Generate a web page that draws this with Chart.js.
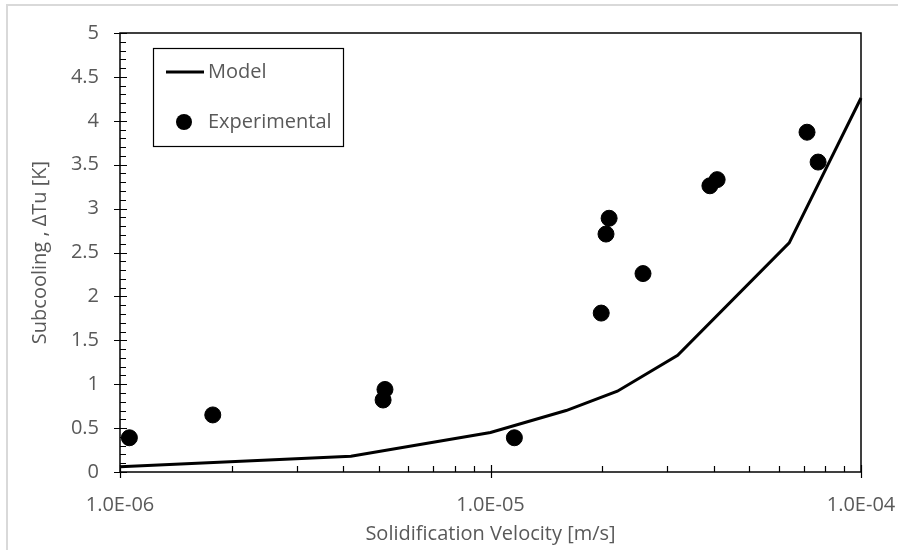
<!DOCTYPE html>
<html lang="en">
<head>
  <meta charset="UTF-8">
  <title>Subcooling vs Solidification Velocity</title>
  <script src="https://cdn.jsdelivr.net/npm/chart.js"></script>
  <style>
    html, body { margin: 0; padding: 0; background: #fff; }
    #wrap { width: 898px; height: 550px; position: relative; }
  </style>
</head>
<body>
  <div id="wrap"><canvas id="subChart" width="898" height="550"></canvas></div>

  <script>
    // model curve
    const modelV  = [1.0e-6, 4.2e-6, 1.0e-5, 1.6e-5, 2.2e-5, 3.2e-5, 6.4e-5, 1.0e-4];
    const modelDT = [0.06, 0.18, 0.45, 0.70, 0.92, 1.33, 2.61, 4.26];

    // experimental points
    const expV  = [1.06e-6, 1.78e-6, 5.19e-6, 5.13e-6, 1.16e-5, 1.99e-5, 2.05e-5, 2.09e-5, 2.58e-5, 3.91e-5, 4.09e-5, 7.15e-5, 7.66e-5];
    const expDT = [0.39, 0.65, 0.94, 0.82, 0.39, 1.81, 2.71, 2.89, 2.26, 3.26, 3.33, 3.87, 3.53];

    const xTickVals   = [1e-6, 1e-5, 1e-4];
    const xTickLabels = ['1.0E-06', '1.0E-05', '1.0E-04'];

    const FONT = "'Open Sans', sans-serif";
    const GREY = '#595959';

    // axis lines, frame, ticks and legend box (Excel style)
    const excelLook = {
      id: 'excelLook',
      beforeDraw(chart) {
        const c = chart.ctx;
        c.save();
        c.fillStyle = '#fff';
        c.fillRect(0, 0, chart.width, chart.height);
        c.strokeStyle = '#d9d9d9';
        c.lineWidth = 2;
        c.beginPath();
        c.moveTo(7, chart.height); c.lineTo(7, 5); c.lineTo(chart.width, 5);
        c.stroke();
        c.restore();
      },
      afterDraw(chart) {
        const c = chart.ctx;
        const a = chart.chartArea;
        const xs = chart.scales.x, ys = chart.scales.y;
        c.save();
        c.strokeStyle = '#000';
        c.lineWidth = 1.5;
        c.strokeRect(a.left, a.top, a.right - a.left, a.bottom - a.top);

        c.lineWidth = 1.2;
        c.beginPath();
        // y ticks
        for (let i = 0; i <= 50; i++) {
          const y = Math.round(ys.getPixelForValue(i / 10)) + 0.5;
          if (i % 5 === 0) { c.moveTo(a.left - 6, y); c.lineTo(a.left + 7, y); }
          else { c.moveTo(a.left, y); c.lineTo(a.left + 6, y); }
        }
        // x ticks (log)
        for (let d = -6; d <= -4; d++) {
          for (let m = 1; m <= 9; m++) {
            if (d === -4 && m > 1) break;
            const x = Math.round(xs.getPixelForValue(m * Math.pow(10, d))) + 0.5;
            if (m === 1) { c.moveTo(x, a.bottom + 6); c.lineTo(x, a.bottom - 7); }
            else { c.moveTo(x, a.bottom); c.lineTo(x, a.bottom - 6); }
          }
        }
        c.stroke();

        // legend
        c.lineWidth = 1.2;
        c.strokeRect(153.5, 48.5, 190, 98);
        c.lineWidth = 3;
        c.beginPath(); c.moveTo(166, 72); c.lineTo(204, 72); c.stroke();
        c.fillStyle = '#000';
        c.beginPath(); c.arc(184, 122, 8, 0, Math.PI * 2); c.fill();
        c.fillStyle = GREY;
        c.font = '20px ' + FONT;
        c.textBaseline = 'middle';
        c.textAlign = 'left';
        c.fillText('Model', 208, 72);
        c.fillText('Experimental', 208, 122);
        c.restore();
      }
    };

    new Chart(document.getElementById('subChart').getContext('2d'), {
      type: 'scatter',
      data: {
        datasets: [
          {
            label: 'Model',
            data: modelV.map((v, i) => ({ x: v, y: modelDT[i] })),
            showLine: true,
            borderColor: '#000',
            borderWidth: 3,
            pointRadius: 0,
            tension: 0,
            clip: false
          },
          {
            label: 'Experimental',
            data: expV.map((v, i) => ({ x: v, y: expDT[i] })),
            backgroundColor: '#000',
            borderColor: '#000',
            pointRadius: 8,
            pointHoverRadius: 8,
            clip: false
          }
        ]
      },
      options: {
        responsive: false,
        animation: false,
        layout: { padding: { left: 0, right: 37, top: 27, bottom: 0 } },
        plugins: { legend: { display: false }, tooltip: { enabled: false } },
        scales: {
          x: {
            type: 'logarithmic',
            min: 1e-6,
            max: 1e-4,
            afterBuildTicks: s => { s.ticks = xTickVals.map(v => ({ value: v })); },
            afterFit: s => { s.height = 78; s.paddingLeft = 0; s.paddingRight = 0; },
            grid: { display: false, drawTicks: false },
            border: { display: false },
            ticks: {
              autoSkip: false,
              maxRotation: 0,
              padding: 21,
              color: GREY,
              font: { family: FONT, size: 20 },
              callback: (v) => xTickLabels[xTickVals.findIndex(t => Math.abs(t - v) / t < 1e-6)]
            },
            title: {
              display: true,
              text: 'Solidification Velocity [m/s]',
              color: GREY,
              font: { family: FONT, size: 20 },
              padding: { top: 0, bottom: 4 }
            }
          },
          y: {
            min: 0,
            max: 5,
            afterFit: s => { s.width = 120; },
            grid: { display: false, drawTicks: false },
            border: { display: false },
            ticks: {
              stepSize: 0.5,
              padding: 21,
              color: GREY,
              font: { family: FONT, size: 20 },
              callback: v => String(Math.round(v * 10) / 10)
            },
            title: {
              display: true,
              text: 'Subcooling , ΔTu [K]',
              color: GREY,
              font: { family: FONT, size: 20 },
              padding: { top: 28, bottom: 0 }
            }
          }
        }
      },
      plugins: [excelLook]
    });
  </script>
</body>
</html>
